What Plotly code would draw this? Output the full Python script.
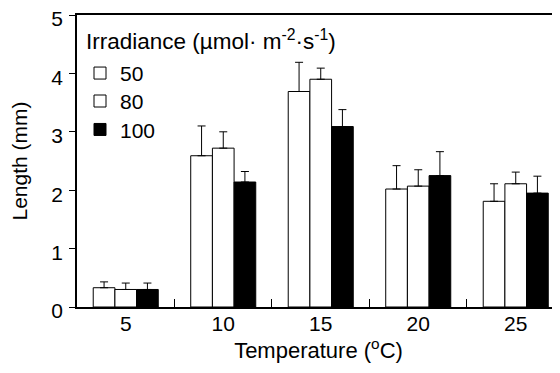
import plotly.graph_objects as go

temperatures = ["5", "10", "15", "20", "25"]
series_names = ["50", "80", "100"]
length_50 = [0.33, 2.59, 3.69, 2.02, 1.81]
err_50 = [0.10, 0.51, 0.50, 0.40, 0.30]
length_80 = [0.30, 2.72, 3.90, 2.07, 2.11]
err_80 = [0.11, 0.28, 0.19, 0.28, 0.20]
length_100 = [0.30, 2.14, 3.09, 2.25, 1.95]
err_100 = [0.11, 0.18, 0.29, 0.41, 0.29]

values = [length_50, length_80, length_100]
errors = [err_50, err_80, err_100]
fills = ["white", "white", "black"]
legends = ["legend", "legend2", "legend3"]

FONT = "Liberation Sans, Arial, sans-serif"

fig = go.Figure()
for name, v, e, c, lg in zip(series_names, values, errors, fills, legends):
    fig.add_trace(go.Bar(
        x=temperatures, y=v, name=name, legend=lg, showlegend=True,
        marker=dict(color=c, line=dict(color="black", width=1)),
        error_y=dict(type="data", array=e, arrayminus=[0] * len(e), symmetric=False,
                     color="black", thickness=1, width=4),
    ))

# page body has an 8px margin, so the figure is offset by 8px
OFF = 8
W, H = 560 - OFF, 373 - OFF
ML, MT, MB = 77 - OFF, 15 - OFF, 65.5
pw, ph = W - ML, H - MT - MB

def py(pix):  # screen pixel -> paper y
    return (H - MB - (pix - OFF)) / ph

def px(pix):  # screen pixel -> paper x
    return (pix - OFF - ML) / pw

leg_common = dict(bgcolor="rgba(0,0,0,0)", borderwidth=0, font=dict(family=FONT, size=21, color="black"),
                  xanchor="left", yanchor="middle", x=px(80))
fig.update_layout(
    width=W, height=H,
    margin=dict(l=ML, r=0, t=MT, b=MB, autoexpand=False),
    paper_bgcolor="white", plot_bgcolor="white",
    font=dict(family=FONT, size=21, color="black"),
    showlegend=True,
    barmode="group", bargap=0.333, bargroupgap=0,
    legend=dict(**leg_common, y=py(73.5)),
    legend2=dict(**leg_common, y=py(101.5)),
    legend3=dict(**leg_common, y=py(130)),
    xaxis=dict(
        type="category", range=[-0.5, 4.454], automargin=False,
        showline=True, linecolor="black", linewidth=1.5, mirror=True,
        ticks="inside", tickson="boundaries", ticklen=8, tickcolor="black",
        showgrid=False, tickfont=dict(size=21), ticklabelstandoff=-3,
        title=dict(text="Temperature (<sup>o</sup>C)", font=dict(size=22), standoff=4),
    ),
    yaxis=dict(
        range=[0, 5], tickvals=[0, 1, 2, 3, 4, 5], automargin=False,
        showline=True, linecolor="black", linewidth=1.5,
        ticks="outside", ticklen=6, tickcolor="black", ticklabelstandoff=2,
        ticklabelshift=4, ticklabeloverflow="allow",
        showgrid=False, zeroline=False, tickfont=dict(size=21),
        title=dict(text="Length (mm)", font=dict(size=21), standoff=20),
    ),
    annotations=[dict(
        text="Irradiance (µmol· m<sup>-2</sup>·s<sup>-1</sup>)",
        xref="paper", yref="paper", x=px(84), y=py(40), xanchor="left", yanchor="middle",
        showarrow=False, font=dict(family=FONT, size=22.5, color="black"),
    )],
)

fig.write_html("out.html")
